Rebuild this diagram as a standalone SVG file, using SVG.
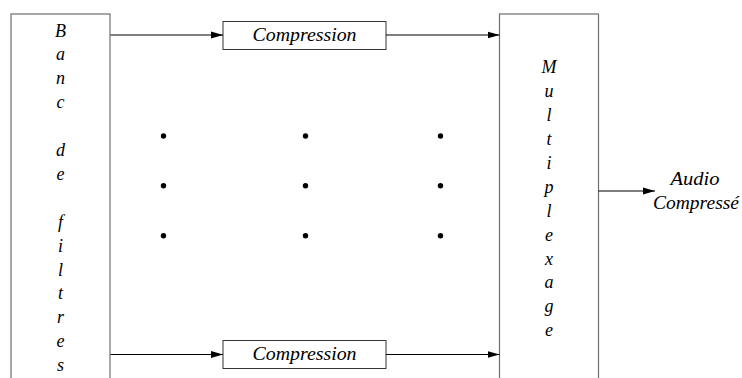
<svg xmlns="http://www.w3.org/2000/svg" width="742" height="378" viewBox="0 0 742 378">
<style>
.big{fill:#fff;stroke:#6e6e6e;stroke-width:1.2}
.box{fill:#fff;stroke:#333;stroke-width:1}
.t{font-family:"Liberation Serif","Times New Roman",serif;font-style:italic;font-size:18px;fill:#000;text-anchor:middle}
.c{stroke:#000;stroke-width:1.2;fill:none;marker-end:url(#ah)}
.dot{fill:#000}
</style>
<defs>
<marker id="ah" markerWidth="12" markerHeight="8" refX="12" refY="4" orient="auto" markerUnits="userSpaceOnUse">
<path d="M0,0.5 L12,4 L0,7.5 Z" fill="#000"/>
</marker>
</defs>
<rect width="742" height="378" fill="#fff"/>
<g id="banc">
<rect class="big" x="11" y="14" width="99" height="380"/>
<text class="t" x="60.5" y="36.5">B</text>
<text class="t" x="60.5" y="60.4">a</text>
<text class="t" x="60.5" y="84.3">n</text>
<text class="t" x="60.5" y="108.2">c</text>
<text class="t" x="60.5" y="156">d</text>
<text class="t" x="60.5" y="179.9">e</text>
<text class="t" x="60.5" y="227.7">f</text>
<text class="t" x="60.5" y="251.6">i</text>
<text class="t" x="60.5" y="275.5">l</text>
<text class="t" x="60.5" y="299.4">t</text>
<text class="t" x="60.5" y="323.3">r</text>
<text class="t" x="60.5" y="347.2">e</text>
<text class="t" x="60.5" y="371.1">s</text>
</g>
<g id="mux">
<rect class="big" x="499.5" y="14" width="99" height="380"/>
<text class="t" x="549" y="73.3">M</text>
<text class="t" x="549" y="97.2">u</text>
<text class="t" x="549" y="121.1">l</text>
<text class="t" x="549" y="145">t</text>
<text class="t" x="549" y="168.9">i</text>
<text class="t" x="549" y="192.8">p</text>
<text class="t" x="549" y="216.7">l</text>
<text class="t" x="549" y="240.6">e</text>
<text class="t" x="549" y="264.5">x</text>
<text class="t" x="549" y="288.4">a</text>
<text class="t" x="549" y="312.3">g</text>
<text class="t" x="549" y="336.2">e</text>
</g>
<g id="comp1">
<rect class="box" x="223" y="21.5" width="163" height="28"/>
<text class="t" x="304.5" y="41" textLength="104" lengthAdjust="spacingAndGlyphs">Compression</text>
</g>
<g id="comp2">
<rect class="box" x="223" y="340.5" width="163" height="28"/>
<text class="t" x="304.5" y="360" textLength="104" lengthAdjust="spacingAndGlyphs">Compression</text>
</g>
<g id="output">
<text class="t" x="695" y="185" textLength="49" lengthAdjust="spacingAndGlyphs">Audio</text>
<text class="t" x="696" y="208.5" textLength="86" lengthAdjust="spacingAndGlyphs">Compressé</text>
</g>
<g id="dots">
<circle class="dot" cx="163.5" cy="136" r="2.7"/>
<circle class="dot" cx="305.5" cy="136" r="2.7"/>
<circle class="dot" cx="440.5" cy="136" r="2.7"/>
<circle class="dot" cx="163.5" cy="185.7" r="2.7"/>
<circle class="dot" cx="305.5" cy="185.7" r="2.7"/>
<circle class="dot" cx="440.5" cy="185.7" r="2.7"/>
<circle class="dot" cx="163.5" cy="235.7" r="2.7"/>
<circle class="dot" cx="305.5" cy="235.7" r="2.7"/>
<circle class="dot" cx="440.5" cy="235.7" r="2.7"/>
</g>
<g id="connectors">
<line class="c" x1="110.5" y1="35" x2="223" y2="35"/>
<line class="c" x1="386" y1="35" x2="499.5" y2="35"/>
<line class="c" x1="110.5" y1="354.5" x2="223" y2="354.5"/>
<line class="c" x1="386" y1="354.5" x2="499.5" y2="354.5"/>
<line class="c" x1="598.5" y1="191" x2="655" y2="191"/>
</g>
</svg>
